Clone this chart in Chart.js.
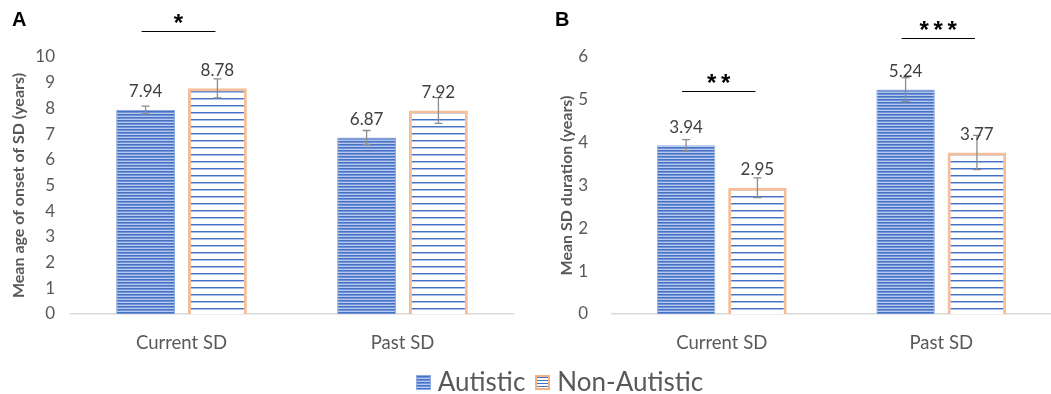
<!DOCTYPE html>
<html>
<head>
<meta charset="utf-8">
<script src="https://cdn.jsdelivr.net/npm/chart.js@4"></script>
<style>
  body { margin: 0; background: #fff; width: 1051px; height: 394px; position: relative; overflow: hidden; font-family: Lato, sans-serif; }
  .panel { position: absolute; top: 0; height: 394px; }
  #wrapA { left: 0; width: 530px; }
  #wrapB { left: 530px; width: 521px; }
  .tag { position: absolute; top: 8px; font: bold 20px "Liberation Sans", Arial, sans-serif; color: #000; }
  #legend { position: absolute; top: 365px; left: 34px; width: 1051px; text-align: center; font-size: 26px; color: #595959; white-space: nowrap; }
  #legend span.item { display: inline-block; margin: 0 5px; }
  #legend i { display: inline-block; width: 15px; height: 15px; margin-right: 7px; vertical-align: 1px; }
</style>
</head>
<body>
<div class="panel" id="wrapA"><canvas id="chartA"></canvas></div>
<div class="panel" id="wrapB"><canvas id="chartB"></canvas></div>
<div class="tag" style="left:12px">A</div>
<div class="tag" style="left:555px">B</div>
<div id="legend"></div>
<script>
// categories and series
const categories = ['Current SD', 'Past SD'];
const seriesNames = ['Autistic', 'Non-Autistic'];

// panel A: age of onset
const onsetAutistic = [7.94, 6.87];
const onsetNonAutistic = [8.78, 7.92];
const onsetErrAutistic = [0.15, 0.27];
const onsetErrNonAutistic = [0.37, 0.5];
const onsetSigLevel = [11.0, null];
const onsetSigStars = ['*', ''];

// panel B: duration
const durAutistic = [3.94, 5.24];
const durNonAutistic = [2.95, 3.77];
const durErrAutistic = [0.13, 0.28];
const durErrNonAutistic = [0.23, 0.4];
const durSigLevel = [5.2, 6.45];
const durSigStars = ['**', '***'];

// stripe fills
function stripes(rows) {
  const c = document.createElement('canvas');
  c.width = 8; c.height = rows.length;
  const g = c.getContext('2d');
  rows.forEach((col, i) => { g.fillStyle = col; g.fillRect(0, i, 8, 1); });
  return g.createPattern(c, 'repeat');
}
const blueFill = stripes(['#4472c4', '#7393d6', '#b7c8ee']);
const stripeFill = stripes(['#4472c4', '#a9bde8', '#ffffff', '#ffffff', '#ffffff', '#ffffff', '#ffffff']);

const extras = {
  id: 'extras',
  afterDatasetsDraw(chart, args, opts) {
    const ctx = chart.ctx;
    const y = chart.scales.y;
    ctx.save();
    chart.data.datasets.forEach((ds, i) => {
      chart.getDatasetMeta(i).data.forEach((bar, j) => {
        const v = ds.data[j], e = ds.errors[j];
        const yt = y.getPixelForValue(v + e), yb = y.getPixelForValue(v - e);
        ctx.strokeStyle = '#8c8c8c';
        ctx.lineWidth = 1.3;
        ctx.beginPath();
        ctx.moveTo(bar.x, yt); ctx.lineTo(bar.x, yb);
        ctx.moveTo(bar.x - 4, yt); ctx.lineTo(bar.x + 4, yt);
        ctx.moveTo(bar.x - 4, yb); ctx.lineTo(bar.x + 4, yb);
        ctx.stroke();
        ctx.fillStyle = '#404040';
        ctx.font = '17px Lato, sans-serif';
        ctx.textAlign = 'center';
        ctx.textBaseline = 'middle';
        ctx.fillText(v.toFixed(2), bar.x, bar.y - 18);
      });
    });
    opts.levels.forEach((lv, j) => {
      if (lv == null) return;
      const x0 = chart.getDatasetMeta(0).data[j].x;
      const x1 = chart.getDatasetMeta(1).data[j].x;
      const py = Math.round(y.getPixelForValue(lv)) + 0.5;
      ctx.strokeStyle = '#000';
      ctx.lineWidth = 1;
      ctx.beginPath();
      ctx.moveTo(x0 - 4, py); ctx.lineTo(x1 - 2, py);
      ctx.stroke();
      ctx.fillStyle = '#000';
      ctx.font = 'bold 24px "Liberation Sans", Arial, sans-serif';
      ctx.textAlign = 'center';
      ctx.textBaseline = 'middle';
      const s = opts.stars[j];
      const cx = (x0 + x1) / 2 - 3;
      for (let k = 0; k < s.length; k++) {
        ctx.fillText(s[k], cx + (k - (s.length - 1) / 2) * 14, py - 7);
      }
    });
    ctx.restore();
  }
};

function makeChart(id, w, a, b, ea, eb, max, title, pad, yWidth, tickPad, titlePad, levels, stars) {
  const el = document.getElementById(id);
  el.width = w; el.height = 394;
  el.style.width = w + 'px'; el.style.height = '394px';
  return new Chart(el, {
    type: 'bar',
    data: {
      labels: categories,
      datasets: [
        { label: seriesNames[0], data: a, errors: ea, backgroundColor: blueFill,
          borderColor: '#8faadc', borderWidth: 1 },
        { label: seriesNames[1], data: b, errors: eb, backgroundColor: stripeFill,
          borderColor: '#f6be98', borderWidth: 3 }
      ]
    },
    options: {
      responsive: false,
      animation: false,
      categoryPercentage: 0.65,
      barPercentage: 0.82,
      layout: { padding: pad },
      plugins: {
        legend: { display: false },
        tooltip: { enabled: false },
        extras: { levels: levels, stars: stars }
      },
      scales: {
        x: {
          grid: { display: false, drawTicks: false },
          border: { display: true, color: '#d9d9d9', width: 1.5 },
          ticks: { color: '#595959', font: { family: 'Lato', size: 18.5 }, padding: 18 },
          afterFit: s => { s.height = 80; }
        },
        y: {
          min: 0, max: max,
          grid: { display: false, drawTicks: false },
          border: { display: false },
          ticks: { stepSize: 1, color: '#595959', font: { family: 'Lato', size: 17 }, padding: tickPad },
          title: { display: true, text: title, color: '#595959',
                   font: { family: 'Lato', size: 16, weight: 'bold' }, padding: { top: titlePad, bottom: 0 } },
          afterFit: s => { s.width = yWidth; }
        }
      }
    },
    plugins: [extras]
  });
}

makeChart('chartA', 530, onsetAutistic, onsetNonAutistic, onsetErrAutistic, onsetErrNonAutistic,
  10, 'Mean age of onset of SD (years)', { left: 0, right: 17, top: 57, bottom: 0 }, 71, 16, 9,
  onsetSigLevel, onsetSigStars);
makeChart('chartB', 521, durAutistic, durNonAutistic, durErrAutistic, durErrNonAutistic,
  6, 'Mean SD duration (years)', { left: 0, right: 0, top: 57, bottom: 0 }, 82, 24, 27,
  durSigLevel, durSigStars);

// shared legend
const legend = document.getElementById('legend');
legend.innerHTML =
  '<span class="item"><i style="background:repeating-linear-gradient(#4472c4 0 1px,#7393d6 1px 2px,#b7c8ee 2px 3px);border:1px solid #8faadc;box-sizing:border-box"></i>' + seriesNames[0] + '</span>' +
  '<span class="item"><i style="background:repeating-linear-gradient(#4472c4 0 1px,#fff 1px 3px);border:2px solid #f4b183;box-sizing:border-box"></i>' + seriesNames[1] + '</span>';
</script>
</body>
</html>
